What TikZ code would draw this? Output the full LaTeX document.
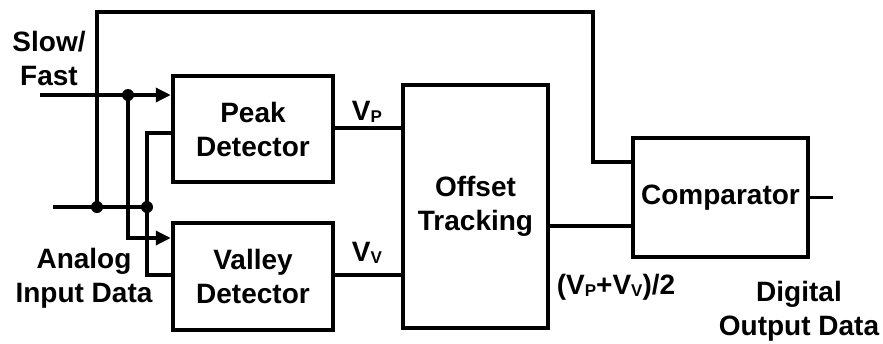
\documentclass[tikz,border=0pt]{standalone}
\usepackage{fontspec}
\setmainfont{Liberation Sans}
\usetikzlibrary{arrows.meta}
\newcommand\lblfont{\fontsize{28}{34}\selectfont\bfseries}
\newcommand\subsc[1]{\raisebox{-2pt}{\fontsize{17}{17}\selectfont #1}}
\begin{document}
\begin{tikzpicture}[x=1pt,y=-1pt,
  box/.style={draw,line width=4.5pt,inner sep=0pt,align=center,font=\lblfont},
  wire/.style={line width=3.4pt},
  arr/.style={-{Triangle[length=15pt,width=14pt]}},
  dot/.style={circle,fill,inner sep=0pt,minimum size=12pt},
  lbl/.style={inner sep=0pt,align=center,font=\lblfont}]
\useasboundingbox (0,0) rectangle (883,343);
% boxes
\node[box,minimum width=160pt,minimum height=106pt] (peak) at (253,129) {Peak\\Detector};
\node[box,minimum width=160pt,minimum height=107pt] (valley) at (253,276.5) {Valley\\Detector};
\node[box,minimum width=145pt,minimum height=243pt] (off) at (475.5,206.5) {\raisebox{-4pt}{\begin{tabular}{@{}c@{}}Offset\\Tracking\end{tabular}}};
\node[box,minimum width=175pt,minimum height=119pt] (comp) at (720.5,197.5) {Comparator};
% labels
\node[lbl] (sf) at (49,58) {Slow/\\Fast};
\node[lbl] (ain) at (84,278) {Analog\\Input Data};
\node[lbl] (vp) at (367,112) {V\subsc{P}};
\node[lbl] (vv) at (367,253) {V\subsc{V}};
\node[lbl] (avg) at (616,287) {(V\subsc{P}+V\subsc{V})/2};
\node[lbl] (dout) at (799,311) {Digital\\Output Data};
% coordinates
\coordinate (sfin) at (40,95);
\coordinate (ainl) at (53,207);
\coordinate (top) at (593,12);
\coordinate (out) at (833,197.5);
\coordinate (yc1) at (0,162);
\coordinate (yv1) at (0,238);
\coordinate (yp2) at (0,133);
\coordinate (yv2) at (0,275);
\coordinate (yvp) at (0,128);
\coordinate (yvv) at (0,275);
\coordinate (yo) at (0,226);
\node[dot] (d1) at (128,95) {};
\node[dot] (d2) at (97,207) {};
\node[dot] (d3) at (147,207) {};
% wires
\draw[wire,arr] (sfin) -- (sfin -| peak.west);
\draw[wire,arr] (d1.center) |- (valley.west |- yv1);
\draw[wire] (ainl) -- (d3.center);
\draw[wire] (d2.center) |- (top) |- (comp.west |- yc1);
\draw[wire] (d3.center) |- (peak.west |- yp2);
\draw[wire] (d3.center) |- (valley.west |- yv2);
\draw[wire] (peak.east |- yvp) -- (off.west |- yvp);
\draw[wire] (valley.east |- yvv) -- (off.west |- yvv);
\draw[wire] (off.east |- yo) -- (comp.west |- yo);
\draw[wire] (comp.east) -- (out);
\end{tikzpicture}
\end{document}
